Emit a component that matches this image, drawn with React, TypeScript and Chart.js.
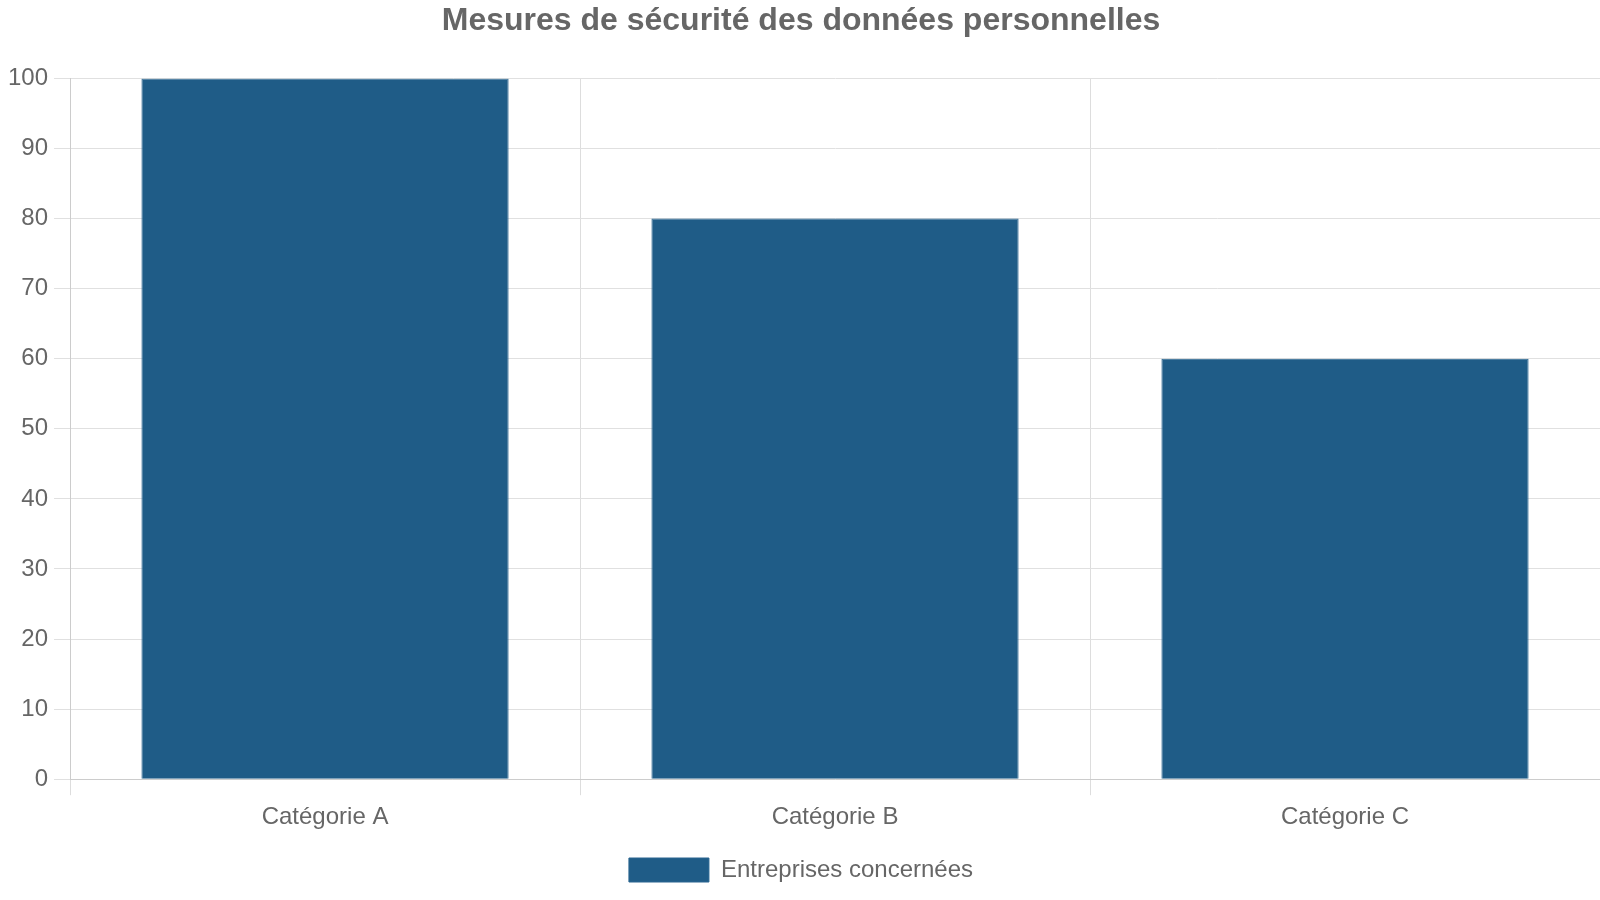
import { useEffect, useRef } from "react"
import { Chart, registerables } from "chart.js"

Chart.register(...registerables)

const categories = ["Catégorie A", "Catégorie B", "Catégorie C"]
const seriesLabel = "Entreprises concernées"
const values = [100, 80, 60]
const chartTitle = "Mesures de sécurité des données personnelles"

export default function App() {
  const chartRef = useRef<HTMLCanvasElement>(null)
  const chartInstance = useRef<Chart | null>(null)

  useEffect(() => {
    document.body.style.margin = "0"
    if (!chartRef.current) return
    if (chartInstance.current) chartInstance.current.destroy()

    const ctx = chartRef.current.getContext("2d")
    if (!ctx) return

    Chart.defaults.font.family = "'Liberation Sans', Arial, sans-serif"
    Chart.defaults.color = "#666"

    chartInstance.current = new Chart(ctx, {
      type: "bar",
      data: {
        labels: categories,
        datasets: [
          {
            label: seriesLabel,
            data: values,
            backgroundColor: "#1f5c87",
            borderColor: "#2a6590",
            borderWidth: 1,
          },
        ],
      },
      options: {
        responsive: true,
        maintainAspectRatio: false,
        animation: false,
        layout: { padding: { left: 2, bottom: 8 } },
        plugins: {
          title: {
            display: true,
            text: chartTitle,
            color: "#666",
            font: { size: 32, weight: "bold" },
            padding: { top: 2, bottom: 38 },
          },
          legend: {
            position: "bottom",
            labels: {
              color: "#666",
              boxWidth: 80,
              boxHeight: 24,
              padding: 18,
              font: { size: 24 },
            },
          },
          tooltip: { enabled: false },
        },
        scales: {
          x: {
            grid: { color: "#ddd", tickLength: 16 },
            border: { color: "#ccc" },
            ticks: { color: "#666", font: { size: 24 }, padding: 8 },
          },
          y: {
            min: 0,
            max: 100,
            grid: { color: "#e0e0e0", tickLength: 16 },
            border: { color: "#ccc" },
            ticks: { stepSize: 10, color: "#666", font: { size: 24 }, padding: 6 },
          },
        },
      },
    })

    return () => {
      if (chartInstance.current) {
        chartInstance.current.destroy()
        chartInstance.current = null
      }
    }
  }, [])

  return (
    <div style={{ width: "1600px", height: "900px", position: "relative" }}>
      <canvas ref={chartRef} />
    </div>
  )
}
